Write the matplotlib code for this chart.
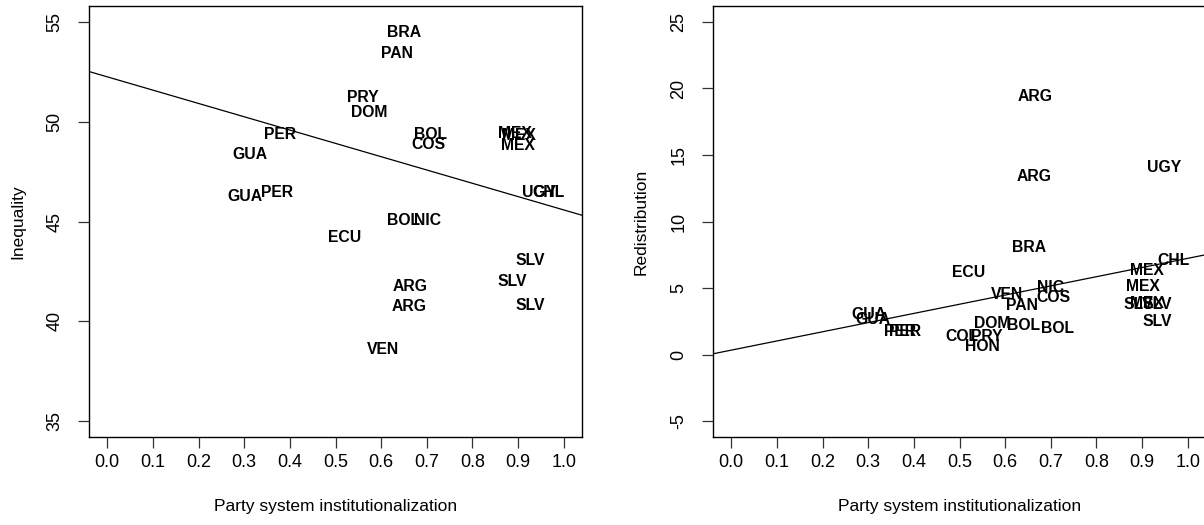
import matplotlib
matplotlib.use('Agg')
import matplotlib.pyplot as plt

plt.rcParams['font.family'] = ['Liberation Sans', 'DejaVu Sans']

# left panel: inequality vs party system institutionalization
ineq_labels = ['BRA', 'PAN', 'PRY', 'DOM', 'PER', 'GUA', 'BOL', 'COS',
               'MEX', 'MEX', 'MEX', 'UGY', 'CHL', 'GUA', 'PER', 'BOL',
               'NIC', 'ECU', 'SLV', 'SLV', 'SLV', 'ARG', 'ARG', 'VEN']
ineq_psi = [0.651, 0.635, 0.560, 0.574, 0.378, 0.312, 0.708, 0.703,
            0.893, 0.902, 0.900, 0.945, 0.967, 0.301, 0.371, 0.648,
            0.701, 0.519, 0.927, 0.888, 0.927, 0.664, 0.662, 0.604]
ineq_vals = [54.45, 53.40, 51.20, 50.45, 49.35, 48.35, 49.35, 48.85,
             49.40, 49.30, 48.80, 46.47, 46.47, 46.27, 46.47, 45.05,
             45.05, 44.20, 43.05, 42.00, 40.80, 41.75, 40.75, 38.60]
ineq_fit = (52.25, -6.67)   # intercept, slope

# right panel: redistribution vs party system institutionalization
redis_labels = ['ARG', 'ARG', 'UGY', 'BRA', 'ECU', 'VEN', 'NIC', 'COS',
                'PAN', 'DOM', 'BOL', 'BOL', 'PRY', 'COL', 'HON', 'GUA',
                'GUA', 'PER', 'PER', 'CHL', 'MEX', 'MEX', 'SLV', 'MEX',
                'SLV', 'SLV']
redis_psi = [0.665, 0.663, 0.949, 0.652, 0.520, 0.604, 0.700, 0.705,
             0.637, 0.572, 0.640, 0.714, 0.560, 0.505, 0.551, 0.301,
             0.310, 0.369, 0.380, 0.968, 0.911, 0.901, 0.891, 0.910,
             0.934, 0.934]
redis_vals = [19.38, 13.38, 14.05, 8.05, 6.17, 4.50, 5.07, 4.30,
              3.70, 2.33, 2.17, 1.93, 1.38, 1.35, 0.62, 3.00,
              2.63, 1.75, 1.75, 7.05, 6.30, 5.10, 3.75, 3.80,
              3.75, 2.45]
redis_fit = (0.33, 6.9)

xticks = [0.0, 0.1, 0.2, 0.3, 0.4, 0.5, 0.6, 0.7, 0.8, 0.9, 1.0]
ineq_yticks = [35, 40, 45, 50, 55]
redis_yticks = [-5, 0, 5, 10, 15, 20, 25]


def panel(ax, labels, x, y, fit, yticks, ylabel):
    for lab, xi, yi in zip(labels, x, y):
        ax.text(xi, yi, lab, ha='center', va='center', fontsize=11.3,
                fontweight='bold', color='black')
    ax.axline((0, fit[0]), slope=fit[1], color='black', lw=0.9)
    ax.set_xlim(-0.04, 1.04)
    pad = (yticks[-1] - yticks[0]) * 0.04
    ax.set_ylim(yticks[0] - pad, yticks[-1] + pad)
    ax.set_xticks(xticks)
    ax.set_xticklabels(['%.1f' % t for t in xticks])
    ax.set_yticks(yticks)
    ax.set_yticklabels([str(t) for t in yticks])
    ax.tick_params(axis='both', direction='out', length=8, width=0.9,
                   labelsize=13, color='#333333')
    ax.tick_params(axis='x', pad=4.5)
    ax.tick_params(axis='y', pad=10.5, labelrotation=90)
    for lab in ax.get_yticklabels():
        lab.set_va('center')
    for sp in ax.spines.values():
        sp.set_linewidth(1.0)
    ax.set_xlabel('Party system institutionalization', fontsize=12.5)
    ax.set_ylabel(ylabel, fontsize=12.5)
    ax.xaxis.set_label_coords(0.5, -0.144)
    ax.yaxis.set_label_coords(-0.13, 0.5)


fig = plt.figure(figsize=(12.04, 5.25), dpi=100)
ax1 = fig.add_axes([89 / 1204, 88 / 525, 493 / 1204, 431 / 525])
ax2 = fig.add_axes([713 / 1204, 88 / 525, 493 / 1204, 431 / 525])

panel(ax1, ineq_labels, ineq_psi, ineq_vals, ineq_fit, ineq_yticks, 'Inequality')
panel(ax2, redis_labels, redis_psi, redis_vals, redis_fit, redis_yticks, 'Redistribution')

fig.savefig('out.png', dpi=100)
